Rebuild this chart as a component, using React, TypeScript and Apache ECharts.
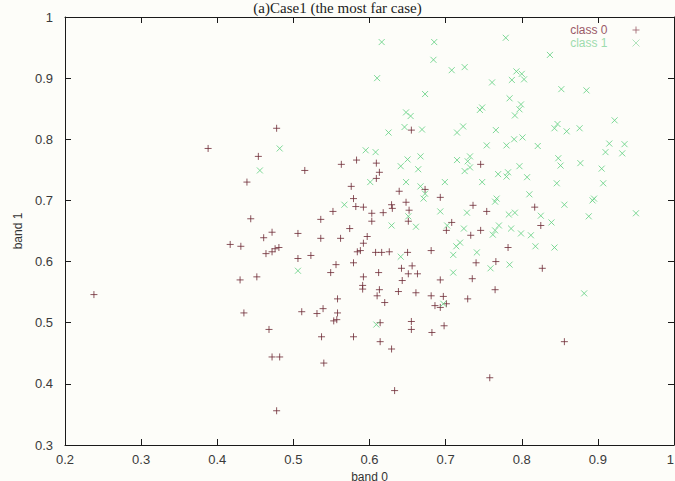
import React, { useEffect, useRef } from "react";
import * as echarts from "echarts";

const TITLE = "(a)Case1 (the most far case)";
const X_NAME = "band 0";
const Y_NAME = "band 1";
const SERIES_NAMES = ["class 0", "class 1"];
const X_RANGE = [0.2, 1];
const Y_RANGE = [0.3, 1];
const TICK_STEP = 0.1;

// class 0 ("+") points: [band 0, band 1]
const class0: [number, number][] = [
  [0.478, 0.818], [0.388, 0.785], [0.454, 0.772], [0.515, 0.749], [0.439, 0.73],
  [0.563, 0.759], [0.583, 0.766], [0.576, 0.723], [0.579, 0.703], [0.582, 0.69],
  [0.552, 0.682], [0.536, 0.669], [0.444, 0.67], [0.574, 0.654], [0.472, 0.648],
  [0.461, 0.639], [0.506, 0.646], [0.536, 0.638], [0.562, 0.638], [0.417, 0.628],
  [0.431, 0.625], [0.476, 0.621], [0.481, 0.623], [0.472, 0.616], [0.464, 0.613],
  [0.506, 0.605], [0.523, 0.61], [0.579, 0.598], [0.556, 0.595], [0.584, 0.616],
  [0.549, 0.582], [0.43, 0.57], [0.452, 0.575], [0.238, 0.546], [0.558, 0.539],
  [0.435, 0.516], [0.511, 0.518], [0.531, 0.515], [0.539, 0.523], [0.558, 0.516],
  [0.553, 0.503], [0.557, 0.505], [0.468, 0.489], [0.537, 0.477], [0.579, 0.477],
  [0.472, 0.444], [0.482, 0.444], [0.54, 0.434], [0.478, 0.356],
  [0.655, 0.815], [0.746, 0.759], [0.609, 0.761], [0.613, 0.746], [0.609, 0.736],
  [0.639, 0.715], [0.693, 0.705], [0.629, 0.693], [0.63, 0.687], [0.648, 0.697],
  [0.652, 0.684], [0.736, 0.692], [0.817, 0.689], [0.592, 0.689], [0.603, 0.679],
  [0.618, 0.68], [0.603, 0.666], [0.651, 0.666], [0.754, 0.682], [0.708, 0.664],
  [0.701, 0.651], [0.733, 0.643], [0.746, 0.651], [0.825, 0.659], [0.597, 0.641],
  [0.592, 0.63], [0.588, 0.618], [0.608, 0.615], [0.616, 0.615], [0.626, 0.616],
  [0.65, 0.615], [0.681, 0.618], [0.782, 0.623], [0.642, 0.589], [0.656, 0.593],
  [0.651, 0.58], [0.663, 0.58], [0.612, 0.582], [0.592, 0.575], [0.591, 0.561],
  [0.591, 0.555], [0.643, 0.569], [0.693, 0.57], [0.74, 0.598], [0.766, 0.6],
  [0.827, 0.589], [0.735, 0.572], [0.613, 0.554], [0.61, 0.544], [0.638, 0.551],
  [0.661, 0.549], [0.681, 0.544], [0.697, 0.543], [0.686, 0.528], [0.693, 0.525],
  [0.701, 0.531], [0.729, 0.539], [0.765, 0.554], [0.62, 0.533], [0.614, 0.5],
  [0.655, 0.502], [0.655, 0.489], [0.682, 0.484], [0.698, 0.495], [0.614, 0.469],
  [0.629, 0.457], [0.856, 0.469], [0.758, 0.41], [0.633, 0.389], [0.673, 0.718],
];

// class 1 ("x") points: [band 0, band 1]
const class1: [number, number][] = [
  [0.482, 0.785], [0.456, 0.749], [0.567, 0.693], [0.506, 0.585], [0.616, 0.959],
  [0.685, 0.959], [0.779, 0.966], [0.684, 0.93], [0.837, 0.938], [0.708, 0.913],
  [0.725, 0.918], [0.793, 0.911], [0.8, 0.907], [0.787, 0.897], [0.803, 0.898],
  [0.61, 0.9], [0.761, 0.893], [0.885, 0.88], [0.852, 0.882], [0.673, 0.874],
  [0.784, 0.867], [0.799, 0.857], [0.797, 0.849], [0.748, 0.852], [0.745, 0.848],
  [0.791, 0.839], [0.648, 0.844], [0.654, 0.838], [0.625, 0.811], [0.646, 0.82],
  [0.669, 0.816], [0.715, 0.811], [0.723, 0.821], [0.766, 0.815], [0.847, 0.825],
  [0.859, 0.813], [0.843, 0.818], [0.876, 0.818], [0.922, 0.831], [0.754, 0.79],
  [0.78, 0.79], [0.79, 0.8], [0.801, 0.803], [0.821, 0.789], [0.915, 0.793],
  [0.935, 0.792], [0.91, 0.779], [0.932, 0.777], [0.595, 0.782], [0.608, 0.779],
  [0.848, 0.769], [0.851, 0.757], [0.877, 0.761], [0.905, 0.752], [0.715, 0.766],
  [0.729, 0.764], [0.732, 0.772], [0.725, 0.748], [0.732, 0.754], [0.641, 0.756],
  [0.65, 0.767], [0.667, 0.772], [0.664, 0.751], [0.601, 0.73], [0.648, 0.73],
  [0.699, 0.73], [0.769, 0.743], [0.782, 0.746], [0.78, 0.739], [0.797, 0.756],
  [0.748, 0.73], [0.807, 0.738], [0.846, 0.728], [0.907, 0.728], [0.667, 0.723],
  [0.671, 0.703], [0.673, 0.711], [0.767, 0.703], [0.765, 0.698], [0.81, 0.71],
  [0.895, 0.703], [0.893, 0.7], [0.856, 0.693], [0.651, 0.674], [0.693, 0.682],
  [0.728, 0.68], [0.783, 0.677], [0.791, 0.68], [0.825, 0.675], [0.888, 0.674],
  [0.95, 0.679], [0.629, 0.659], [0.661, 0.657], [0.702, 0.659], [0.724, 0.654],
  [0.765, 0.651], [0.762, 0.644], [0.77, 0.659], [0.786, 0.654], [0.799, 0.646],
  [0.812, 0.643], [0.839, 0.664], [0.641, 0.608], [0.719, 0.631], [0.714, 0.625],
  [0.71, 0.611], [0.741, 0.615], [0.818, 0.625], [0.843, 0.623], [0.71, 0.582],
  [0.759, 0.589], [0.784, 0.595], [0.697, 0.531], [0.882, 0.548], [0.609, 0.497],
];

const COLOR0 = "#6e2a36";
const COLOR1 = "#5fcf80";
const LEGEND0 = "#9a5a68";
const LEGEND1 = "#9ddcae";
const PLUS = "path://M5,0 L5,10 M0,5 L10,5";
const CROSS = "path://M0,0 L10,10 M10,0 L0,10";
const FONT = "Liberation Sans, Arial, sans-serif";

const fmt = (v: number) => String(+(+v).toFixed(1));

export default function App() {
  const ref = useRef<HTMLDivElement>(null);
  useEffect(() => {
    if (!ref.current) return;
    const chart = echarts.init(ref.current, undefined, { renderer: "svg" });
    const axisLine = { show: true, lineStyle: { color: "#1a1a1a", width: 1 } };
    const axisTick = { show: true, inside: true, length: 6, lineStyle: { color: "#1a1a1a", width: 1 } };
    const label = { color: "#3a3a3a", fontSize: 13, fontFamily: FONT, formatter: fmt };
    chart.setOption({
      animation: false,
      backgroundColor: "#fdfdf9",
      grid: {
        left: 65, top: 17, width: 609, height: 428,
        containLabel: false, outerBoundsMode: "none",
      },
      graphic: [
        {
          type: "text",
          left: "center",
          top: 0,
          style: { text: TITLE, fontFamily: "Liberation Serif, Times New Roman, serif", fontSize: 15, fill: "#222" },
        },
      ],
      legend: {
        orient: "vertical",
        right: 30,
        top: 19,
        align: "right",
        itemWidth: 7,
        itemHeight: 7,
        itemGap: 1,
        data: [
          { name: SERIES_NAMES[0], textStyle: { color: LEGEND0 }, itemStyle: { borderColor: LEGEND0, borderWidth: 1 } },
          { name: SERIES_NAMES[1], textStyle: { color: LEGEND1 }, itemStyle: { borderColor: LEGEND1, borderWidth: 1 } },
        ],
        textStyle: { fontSize: 12, fontFamily: FONT, padding: [0, 20, 0, 0] },
      },
      xAxis: [
        {
          type: "value", min: X_RANGE[0], max: X_RANGE[1], interval: TICK_STEP, position: "bottom",
          name: X_NAME, nameLocation: "middle", nameGap: 15,
          nameTextStyle: { color: "#333", fontSize: 12, fontFamily: FONT },
          axisLine, axisTick,
          axisLabel: { ...label, margin: 8, alignMaxLabel: "right" },
          splitLine: { show: false },
        },
        {
          type: "value", min: X_RANGE[0], max: X_RANGE[1], interval: TICK_STEP, position: "top",
          axisLine, axisTick, axisLabel: { show: false }, splitLine: { show: false },
        },
      ],
      yAxis: [
        {
          type: "value", min: Y_RANGE[0], max: Y_RANGE[1], interval: TICK_STEP, position: "left",
          name: Y_NAME, nameLocation: "middle", nameGap: 39,
          nameTextStyle: { color: "#333", fontSize: 12, fontFamily: FONT },
          axisLine, axisTick, axisLabel: { ...label, margin: 12 }, splitLine: { show: false },
        },
        {
          type: "value", min: Y_RANGE[0], max: Y_RANGE[1], interval: TICK_STEP, position: "right",
          axisLine, axisTick, axisLabel: { show: false }, splitLine: { show: false },
        },
      ],
      series: [
        {
          name: SERIES_NAMES[0], type: "scatter", data: class0, symbol: PLUS, symbolSize: 7,
          itemStyle: { color: "rgba(0,0,0,0)", borderColor: COLOR0, borderWidth: 1 },
        },
        {
          name: SERIES_NAMES[1], type: "scatter", data: class1, symbol: CROSS, symbolSize: 6,
          itemStyle: { color: "rgba(0,0,0,0)", borderColor: COLOR1, borderWidth: 1 },
        },
      ],
    });
    return () => chart.dispose();
  }, []);
  return (
    <div
      ref={ref}
      style={{ position: "fixed", left: 0, top: 0, width: 675, height: 481 }}
    />
  );
}
